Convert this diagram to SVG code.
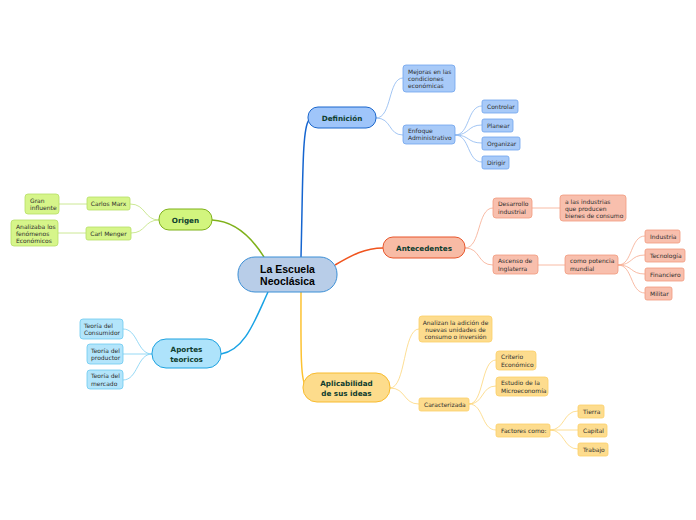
<svg xmlns="http://www.w3.org/2000/svg" width="696" height="520" viewBox="0 0 696 520">
<style>
text{font-family:"DejaVu Sans",Verdana,sans-serif;}
.s{font-size:6px;fill:#2e2e2e;}
.m{font-size:7.2px;font-weight:bold;fill:#0d3d2f;text-anchor:middle;}
.c{font-family:"Liberation Sans",Arial,sans-serif;font-size:10.5px;font-weight:bold;fill:#000;text-anchor:middle;}
.mid{text-anchor:middle;}
.b1{fill:#9fc5fa;stroke:#1a66cc;stroke-width:1;}
.b2{fill:#a8caf8;stroke:#6fa3ee;stroke-width:0.8;}
.o1{fill:#f8bba5;stroke:#e8552a;stroke-width:1;}
.o2{fill:#f8bfad;stroke:#f19a7e;stroke-width:0.8;}
.y1{fill:#fddc8c;stroke:#f8bb2e;stroke-width:1;}
.y2{fill:#fddc8e;stroke:#fbcf68;stroke-width:0.8;}
.g1{fill:#d2f57e;stroke:#7fb11a;stroke-width:1;}
.g2{fill:#d6f58a;stroke:#b6de66;stroke-width:0.8;}
.a1{fill:#aee3fb;stroke:#1da2e0;stroke-width:1;}
.a2{fill:#b3e5fb;stroke:#6ccaf0;stroke-width:0.8;}
.k{fill:none;}
.kb{stroke:#1565d0;stroke-width:1.5;}
.kbl{stroke:#8ab6f0;stroke-width:0.8;}
.ko{stroke:#f0541e;stroke-width:1.5;}
.kol{stroke:#f6a98e;stroke-width:0.8;}
.ky{stroke:#fcc232;stroke-width:1.5;}
.kyl{stroke:#fcd67a;stroke-width:0.8;}
.kg{stroke:#7fb11a;stroke-width:1.5;}
.kgl{stroke:#bfe27a;stroke-width:0.8;}
.ka{stroke:#1aa3e5;stroke-width:1.5;}
.kal{stroke:#7ccff2;stroke-width:0.8;}
</style>
<rect width="696" height="520" fill="#fff"/>
<g id="connectors" class="k">
<path class="k kb" d="M301,257 C303,180 302,128 309,120"/>
<path class="k ko" d="M335,265 C352,255 365,248 383,248"/>
<path class="k kg" d="M212,220 C235,221 252,238 264,257"/>
<path class="k ka" d="M221,354 C245,350 255,320 268,292"/>
<path class="k ky" d="M301,292 C301,340 300,382 306,386"/>
<path class="k kbl" d="M376,118 C392,118 388,78 403,78"/>
<path class="k kbl" d="M376,118 C392,118 388,135 403,135"/>
<path class="k kbl" d="M455,135 C470,135 467,106 482,106"/>
<path class="k kbl" d="M455,135 C470,135 467,125 482,125"/>
<path class="k kbl" d="M455,135 C470,135 467,143 482,143"/>
<path class="k kbl" d="M455,135 C470,135 467,162 482,162"/>
<path class="k kol" d="M465,248 C481,248 477,208 493,208"/>
<path class="k kol" d="M465,248 C481,248 477,265 493,265"/>
<path class="k kol" d="M532,208 L560,208"/>
<path class="k kol" d="M538,265 L565,265"/>
<path class="k kol" d="M618,265 C633,265 630,236 645,236"/>
<path class="k kol" d="M618,265 C633,265 630,255 645,255"/>
<path class="k kol" d="M618,265 C633,265 630,274 645,274"/>
<path class="k kol" d="M618,265 C633,265 630,293 645,293"/>
<path class="k kyl" d="M390,388 C406,388 403,329 419,329"/>
<path class="k kyl" d="M390,388 C406,388 403,404 419,404"/>
<path class="k kyl" d="M469,404 C484,404 481,360 496,360"/>
<path class="k kyl" d="M469,404 C484,404 481,386 496,386"/>
<path class="k kyl" d="M469,404 C484,404 481,430 496,430"/>
<path class="k kyl" d="M550,430 C565,430 563,411 578,411"/>
<path class="k kyl" d="M550,430 L578,430"/>
<path class="k kyl" d="M550,430 C565,430 563,449 578,449"/>
<path class="k kgl" d="M159,220 C144,220 146,204 130,204"/>
<path class="k kgl" d="M159,220 C144,220 146,233 131,233"/>
<path class="k kgl" d="M87,204 L59,204"/>
<path class="k kgl" d="M86,233 L58,233"/>
<path class="k kal" d="M152,354 C137,354 138,329 123,329"/>
<path class="k kal" d="M152,354 L123,354"/>
<path class="k kal" d="M152,354 C137,354 138,380 123,380"/>
</g>
<g id="central"><rect x="238" y="257" width="99" height="35" rx="17" fill="#b8cde8" stroke="#3b8fd6" stroke-width="1"/><text class="c" x="287.5" y="272.5">La Escuela</text><text class="c" x="287.5" y="284.5">Neoclásica</text></g>
<g id="definicion"><rect class="b1" x="308" y="107" width="68" height="21" rx="10"/><text class="m" x="342" y="120.5">Definición</text></g>
<g id="mejoras"><rect class="b2" x="403" y="65" width="52" height="27" rx="3"/><text class="s" x="408" y="74">Mejoras en las</text><text class="s" x="408" y="81">condiciones</text><text class="s" x="408" y="88">económicas</text></g>
<g id="enfoque"><rect class="b2" x="403" y="125" width="52" height="19" rx="3"/><text class="s" x="408" y="133">Enfoque</text><text class="s" x="408" y="140">Administrativo</text></g>
<g id="controlar"><rect class="b2" x="482" y="100" width="36" height="13" rx="2"/><text class="s" x="487" y="108.5">Controlar</text></g>
<g id="planear"><rect class="b2" x="482" y="119" width="31" height="13" rx="2"/><text class="s" x="487" y="127.5">Planear</text></g>
<g id="organizar"><rect class="b2" x="482" y="137" width="38" height="13" rx="2"/><text class="s" x="487" y="145.5">Organizar</text></g>
<g id="dirigir"><rect class="b2" x="482" y="156" width="27" height="13" rx="2"/><text class="s" x="487" y="164.5">Dirigir</text></g>
<g id="antecedentes"><rect class="o1" x="383" y="237" width="82" height="21" rx="10"/><text class="m" x="424" y="250.5">Antecedentes</text></g>
<g id="desarrollo"><rect class="o2" x="493" y="198" width="39" height="20" rx="3"/><text class="s" x="498" y="206">Desarrollo</text><text class="s" x="498" y="213.5">industrial</text></g>
<g id="industrias"><rect class="o2" x="560" y="195" width="66" height="26" rx="3"/><text class="s" x="565" y="203.5">a las industrias</text><text class="s" x="565" y="210.5">que producen</text><text class="s" x="565" y="217.5">bienes de consumo</text></g>
<g id="ascenso"><rect class="o2" x="493" y="255" width="45" height="19" rx="3"/><text class="s" x="498" y="263">Ascenso de</text><text class="s" x="498" y="270.5">Inglaterra</text></g>
<g id="potencia"><rect class="o2" x="565" y="255" width="53" height="19" rx="3"/><text class="s" x="570" y="263">como potencia</text><text class="s" x="570" y="270.5">mundial</text></g>
<g id="industria"><rect class="o2" x="645" y="230" width="35" height="13" rx="2"/><text class="s" x="650" y="238.5">Industria</text></g>
<g id="tecnologia"><rect class="o2" x="645" y="249" width="40" height="13" rx="2"/><text class="s" x="650" y="257.5">Tecnología</text></g>
<g id="financiero"><rect class="o2" x="645" y="268" width="39" height="13" rx="2"/><text class="s" x="650" y="276.5">Financiero</text></g>
<g id="militar"><rect class="o2" x="645" y="287" width="27" height="13" rx="2"/><text class="s" x="650" y="295.5">Militar</text></g>
<g id="aplicabilidad"><rect class="y1" x="303" y="373" width="87" height="29" rx="14"/><text class="m" x="346.5" y="386">Aplicabilidad</text><text class="m" x="346.5" y="396">de sus ideas</text></g>
<g id="analizan"><rect class="y2" x="419" y="316" width="73" height="26" rx="3"/><text class="s mid" x="455.5" y="324.5">Analizan la adición de</text><text class="s mid" x="455.5" y="331.5">nuevas unidades de</text><text class="s mid" x="455.5" y="338.5">consumo o inversión</text></g>
<g id="caracterizada"><rect class="y2" x="419" y="398" width="50" height="13" rx="2"/><text class="s" x="424" y="406.5">Caracterizada</text></g>
<g id="criterio"><rect class="y2" x="496" y="351" width="40" height="19" rx="3"/><text class="s" x="501" y="359">Criterio</text><text class="s" x="501" y="366.5">Económico</text></g>
<g id="estudio"><rect class="y2" x="496" y="377" width="52" height="19" rx="3"/><text class="s" x="501" y="385">Estudio de la</text><text class="s" x="501" y="392.5">Microeconomía</text></g>
<g id="factores"><rect class="y2" x="496" y="424" width="54" height="13" rx="2"/><text class="s" x="501" y="432.5">Factores como:</text></g>
<g id="tierra"><rect class="y2" x="578" y="405" width="26" height="13" rx="2"/><text class="s" x="583" y="413.5">Tierra</text></g>
<g id="capital"><rect class="y2" x="578" y="424" width="29" height="13" rx="2"/><text class="s" x="583" y="432.5">Capital</text></g>
<g id="trabajo"><rect class="y2" x="578" y="443" width="30" height="13" rx="2"/><text class="s" x="583" y="451.5">Trabajo</text></g>
<g id="origen"><rect class="g1" x="159" y="209" width="53" height="21" rx="10"/><text class="m" x="185.5" y="222.5">Origen</text></g>
<g id="carlosmarx"><rect class="g2" x="87" y="197" width="43" height="13" rx="2"/><text class="s mid" x="108.5" y="205.5">Carlos Marx</text></g>
<g id="carlmenger"><rect class="g2" x="86" y="227" width="45" height="13" rx="2"/><text class="s mid" x="108.5" y="235.5">Carl Menger</text></g>
<g id="gran"><rect class="g2" x="25" y="194" width="34" height="20" rx="3"/><text class="s" x="30" y="202.5">Gran</text><text class="s" x="30" y="210">influente</text></g>
<g id="analizaba"><rect class="g2" x="11" y="220" width="47" height="26" rx="3"/><text class="s" x="16" y="228.5">Analizaba los</text><text class="s" x="16" y="235.5">fenómenos</text><text class="s" x="16" y="242.5">Económicos</text></g>
<g id="aportes"><rect class="a1" x="152" y="339" width="69" height="29" rx="14"/><text class="m" x="186.5" y="352">Aportes</text><text class="m" x="186.5" y="362">teoricos</text></g>
<g id="consumidor"><rect class="a2" x="80" y="319" width="43" height="20" rx="3"/><text class="s" x="84" y="327.5">Teoría del</text><text class="s" x="84" y="335">Consumidor</text></g>
<g id="productor"><rect class="a2" x="87" y="344" width="36" height="20" rx="3"/><text class="s" x="91" y="352.5">Teoría del</text><text class="s" x="91" y="360">productor</text></g>
<g id="mercado"><rect class="a2" x="87" y="370" width="36" height="19" rx="3"/><text class="s" x="91" y="378">Teoría del</text><text class="s" x="91" y="385.5">mercado</text></g>
</svg>
